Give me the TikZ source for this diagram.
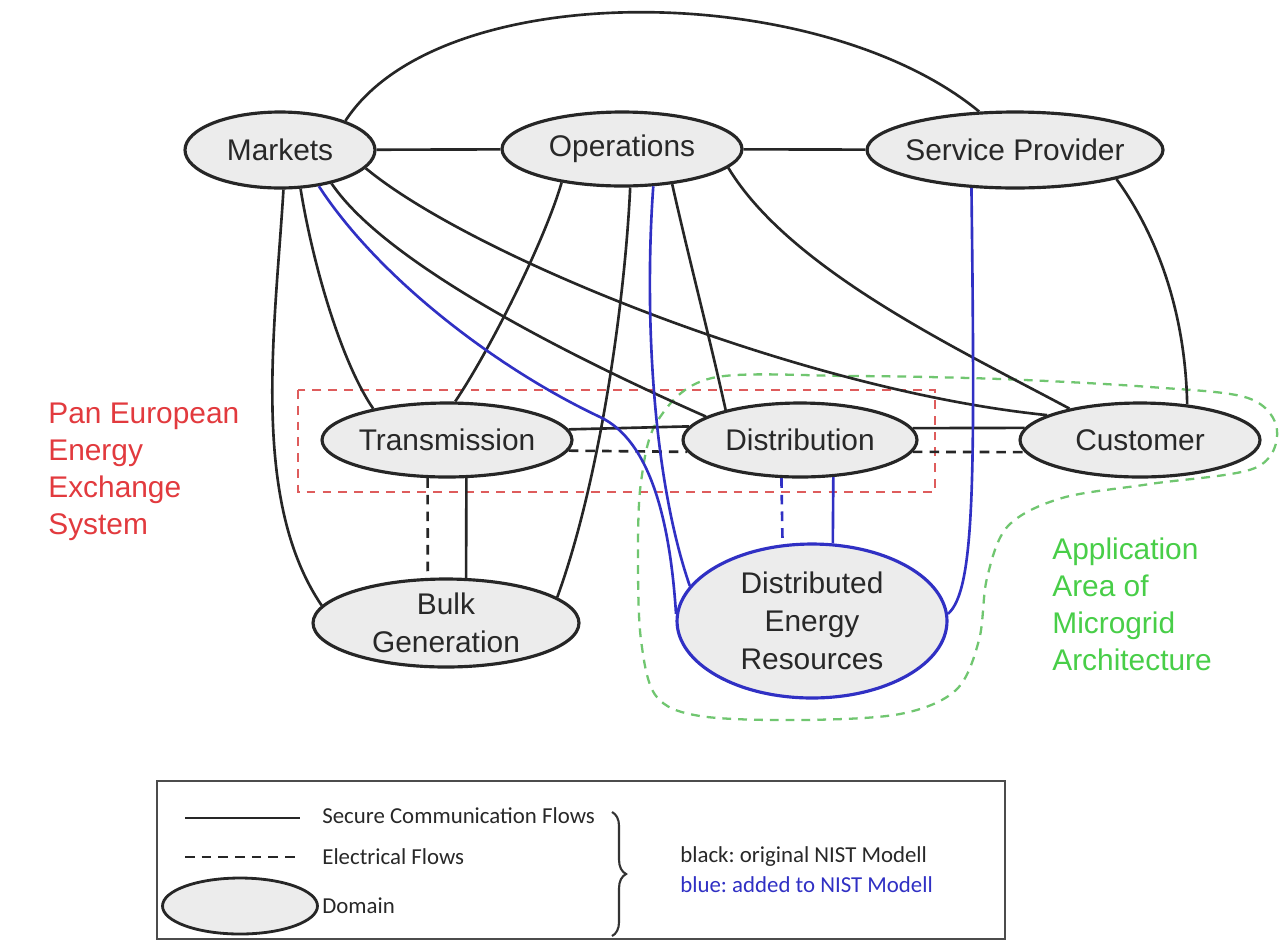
\documentclass[tikz,border=0pt]{standalone}
\usepackage{fontspec}
\setmainfont{Liberation Sans}
\newfontfamily\legendfont{Carlito}
\usetikzlibrary{shapes.geometric,decorations.pathreplacing}

\definecolor{domfill}{RGB}{236,236,236}
\definecolor{inktext}{RGB}{40,40,40}
\definecolor{addblue}{RGB}{48,48,196}
\definecolor{panred}{RGB}{226,58,62}
\definecolor{rectred}{RGB}{222,92,92}
\definecolor{gridgreen}{RGB}{72,206,72}
\definecolor{areagreen}{RGB}{112,198,112}

\frenchspacing
\begin{document}
\begin{tikzpicture}[x=0.02cm,y=-0.02cm,
  domainnode/.style={ellipse, draw=black!85, line width=1.8pt, fill=domfill,
    inner xsep=-12pt, inner ysep=0pt, align=center, text=inktext,
    font=\fontsize{17}{21.5}\selectfont},
  comm/.style={line width=1.5pt, draw=black!85},
  added/.style={line width=1.5pt, draw=addblue},
  elec/.style={dash pattern=on 5.5pt off 4pt},
  regionred/.style={draw=rectred, line width=1.3pt, dash pattern=on 5pt off 4pt},
  regiongreen/.style={draw=areagreen, line width=1.3pt, dash pattern=on 5pt off 4pt},
  sidetext/.style={align=left, anchor=west, inner sep=0pt,
    font=\fontsize{17}{21}\selectfont},
  legtext/.style={anchor=west, inner sep=0pt, text=inktext,
    font=\legendfont\fontsize{13}{15}\selectfont}
]
\useasboundingbox (0,0) rectangle (1280,944);
\fill[white] (0,0) rectangle (1280,944);

% ---- grouping regions ----
\draw[regionred] (298,390) rectangle (935,492);
\draw[regiongreen] plot[smooth cycle, tension=0.55] coordinates {
  (712,378) (850,376) (1000,379) (1150,387) (1248,398) (1277,430) (1255,468)
  (1150,484) (1062,498) (1008,526) (987,578) (979,640) (956,690) (900,714)
  (800,720) (700,716) (656,696) (641,640) (638,560) (641,482) (658,420)};

\node[sidetext, text=panred] (pan) at (48,472)
  {Pan European\\Energy\\Exchange\\System};
\node[sidetext, text=gridgreen] (micro) at (1052,604)
  {Application\\Area of\\Microgrid\\Architecture};

% ---- domains ----
\node[domainnode, minimum width=3.8cm, minimum height=1.52cm] (mk) at (280,150) {Markets};
\node[domainnode, minimum width=4.8cm, minimum height=1.48cm] (op) at (622,149) {Operations};
\node[domainnode, minimum width=5.92cm, minimum height=1.52cm] (sp) at (1015,150) {Service Provider};
\node[domainnode, minimum width=5.0cm, minimum height=1.48cm] (tr) at (447,440) {Transmission};
\node[domainnode, minimum width=4.68cm, minimum height=1.48cm] (di) at (800,440) {Distribution};
\node[domainnode, minimum width=4.8cm, minimum height=1.48cm] (cu) at (1140,440) {Customer};
\node[domainnode, minimum width=5.32cm, minimum height=1.76cm] (bg) at (446,623) {Bulk\\Generation};
\node[domainnode, draw=addblue, minimum width=5.4cm, minimum height=3.08cm] (der) at (812,621)
  {Distributed\\Energy\\Resources};

% ---- communication flows (NIST) ----
\draw[comm] (mk.24) .. controls (440,-25) and (820,-20) .. (sp.133);
\draw[comm] (mk) -- (op);
\draw[comm] (op) -- (sp);
\draw[comm] (mk.-62) .. controls (312,260) and (340,360) .. (tr.157);
\draw[comm] (mk.-85) .. controls (275,330) and (250,500) .. (bg.172);
\draw[comm] (mk.-33) .. controls (390,270) and (600,370) .. (di.166);
\draw[comm] (mk.-12) .. controls (470,255) and (800,390) .. (cu.165);
\draw[comm] (op.209) .. controls (545,240) and (490,350) .. (tr.78);
\draw[comm] (op.-78) .. controls (625,300) and (600,480) .. (bg.13);
\draw[comm] (op.-35) .. controls (689,259) and (709,335) .. (di.158);
\draw[comm] (op.-10) .. controls (790,270) and (960,350) .. (cu.156);
\draw[comm] (sp.-16) .. controls (1150,225) and (1185,300) .. (cu.37);
\draw[comm] (tr.5.8) -- (di.173.8);
\draw[comm] (di.6.2) -- (cu.174);
\draw[comm] (tr.-63.8) -- (bg.66.4);

% ---- electrical flows (NIST) ----
\draw[comm, elec] (tr.-5.8) -- (di.186.2);
\draw[comm, elec] (di.-6.2) -- (cu.186);
\draw[comm, elec] (tr.-117.5) -- (bg.112.4);

% ---- added links ----
\coordinate (mkbend) at (600,417);
\draw[added] (mk.-43) .. controls (380,280) and (500,370) .. (mkbend)
  .. controls (650,440.5) and (670,520) .. (der.177);
\draw[added] (op.-50) .. controls (645,300) and (650,470) .. (der.164);
\draw[added] (sp.221) .. controls (975,480) and (975,590) .. (der.3);
\draw[added] (di.-48) -- (der.75.3);
\draw[added, elec] (di.-116.2) -- (der.111.8);

% ---- legend ----
\draw[black!70, line width=1.1pt] (157,781) rectangle (1005,939);
\coordinate (l1a) at (185,818); \coordinate (l1b) at (300,818);
\draw[comm] (l1a) -- (l1b);
\node[legtext] (lt1) at (322,816) {Secure Communication Flows};
\coordinate (l2a) at (185,857); \coordinate (l2b) at (300,857);
\draw[comm, elec] (l2a) -- (l2b);
\node[legtext] (lt2) at (322,857) {Electrical Flows};
\node[domainnode, line width=1.6pt, minimum width=3.1cm, minimum height=1.12cm] (ld) at (240,906) {};
\node[legtext] (lt3) at (322,906) {Domain};
\draw[black!80, line width=1.2pt, decorate, decoration={brace, amplitude=8pt}]
  (612,812) -- (612,936);
\node[legtext] (lb1) at (680,857) {black: original NIST Modell};
\node[legtext, text=addblue] (lb2) at (680,885) {blue: added to NIST Modell};
\end{tikzpicture}
\end{document}
